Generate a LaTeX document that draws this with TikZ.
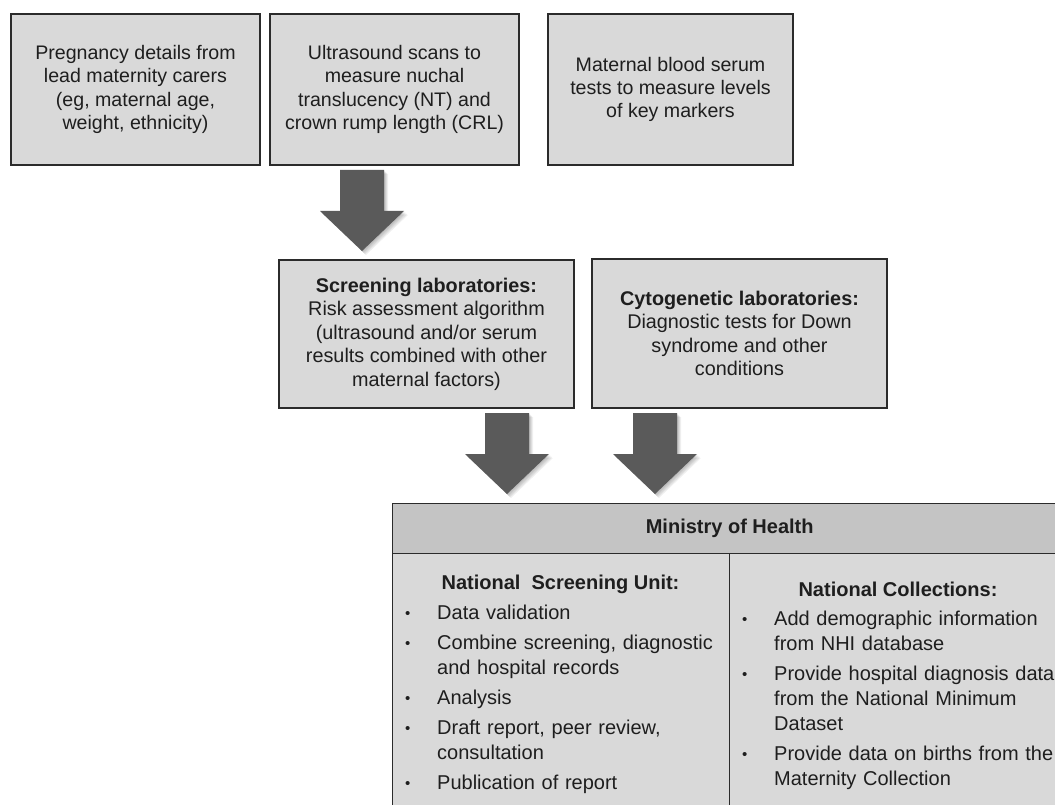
\documentclass[tikz,border=0pt]{standalone}
\usepackage{fontspec}
\setmainfont{Liberation Sans}
\definecolor{boxfill}{HTML}{D9D9D9}
\definecolor{hdrfill}{HTML}{C4C4C4}
\definecolor{edgecol}{HTML}{2B2B2B}
\definecolor{arrowgray}{HTML}{5A5A5A}
\definecolor{txt}{HTML}{1E1E1E}
\newcommand{\bitem}[1]{\noindent\hangindent=34pt\hangafter=1\makebox[34pt][l]{\hspace{2pt}{\fontsize{15}{25}\selectfont\raisebox{1pt}{•}}}#1\par}
\tikzset{
  box/.style={draw=edgecol, line width=1.4pt, fill=boxfill, text=txt, align=center, inner sep=0pt},
  topfont/.style={font=\fontsize{19.6}{23.3}\selectfont},
  midfont/.style={font=\fontsize{19.8}{23.5}\selectfont},
  cell/.style={draw=edgecol, line width=1.4pt, fill=boxfill, inner sep=0pt},
  hdrcell/.style={draw=edgecol, line width=1.4pt, fill=hdrfill, inner sep=0pt},
  headtext/.style={font=\fontsize{20}{25}\selectfont\bfseries, text=txt, inner sep=0pt},
  listtext/.style={font=\fontsize{20}{25}\selectfont, text=txt, text width=320pt, align=left, inner sep=0pt,
    execute at begin node={\setlength{\parskip}{5pt}}},
  arrowshape/.style={insert path={(-22,0) -- (22,0) -- (22,41) -- (42,41) -- (0,81) -- (-42,41) -- (-22,41) -- cycle}},
  blockarrow/.pic={
    \foreach \s in {1,2,3,4,5}{\fill[black, opacity=0.06, shift={(0.8*\s,0.8*\s)}, arrowshape];}
    \fill[arrowgray, arrowshape];}
}
\begin{document}
\begin{tikzpicture}[x=1pt,y=-1pt]
\useasboundingbox (0,0) rectangle (1055,805);
\clip (0,0) rectangle (1055,805);

% top row
\node[box, topfont, minimum width=249pt, minimum height=151pt] (preg) at (135.5,89.5)
  {Pregnancy details from\\lead maternity carers\\(eg, maternal age,\\weight, ethnicity)};
\node[box, topfont, minimum width=249pt, minimum height=151pt] (ultra) at (394.5,89.5)
  {Ultrasound scans to\\measure nuchal\\translucency (NT) and\\crown rump length (CRL)};
\node[box, topfont, minimum width=245pt, minimum height=151pt] (serum) at (670.5,89.5)
  {Maternal blood serum\\tests to measure levels\\of key markers};

% middle row
\node[box, midfont, minimum width=295pt, minimum height=148pt] (screen) at (426.5,334)
  {\textbf{Screening laboratories:}\\Risk assessment algorithm\\(ultrasound and/or serum\\results combined with other\\maternal factors)};
\node[box, midfont, minimum width=295pt, minimum height=149pt] (cyto) at (739.5,333.5)
  {\textbf{Cytogenetic laboratories:}\\Diagnostic tests for Down\\syndrome and other\\conditions};

% block arrows
\coordinate (a1) at (362,170);
\coordinate (a2) at (507,413);
\coordinate (a3) at (655,413);
\pic at (a1) {blockarrow};
\pic at (a2) {blockarrow};
\pic at (a3) {blockarrow};

% Ministry of Health table
\node[hdrcell, anchor=north west, minimum width=674pt, minimum height=50pt] (moh) at (392,503) {};
\node[headtext] (mohtext) at (moh.center) {Ministry of Health};
\node[cell, anchor=north west, minimum width=337pt, minimum height=290pt] (nsu) at (392,553) {};
\node[cell, anchor=north west, minimum width=337pt, minimum height=290pt] (nc) at (729,553) {};

\node[headtext] (nsuhead) at (560.5,584) {National\ \ Screening Unit:};
\node[listtext, anchor=north west] (nsulist) at (403,605)
  {\bitem{Data validation}
   \bitem{Combine screening, diagnostic\newline and hospital records}
   \bitem{Analysis}
   \bitem{Draft report, peer review,\newline consultation}
   \bitem{Publication of report}};

\node[headtext] (nchead) at (898,589) {National Collections:};
\node[listtext, anchor=north west] (nclist) at (740,611)
  {\bitem{Add demographic information\newline from NHI database}
   \bitem{Provide hospital diagnosis data\newline from the National Minimum\newline Dataset}
   \bitem{Provide data on births from the\newline Maternity Collection}};
\end{tikzpicture}
\end{document}
